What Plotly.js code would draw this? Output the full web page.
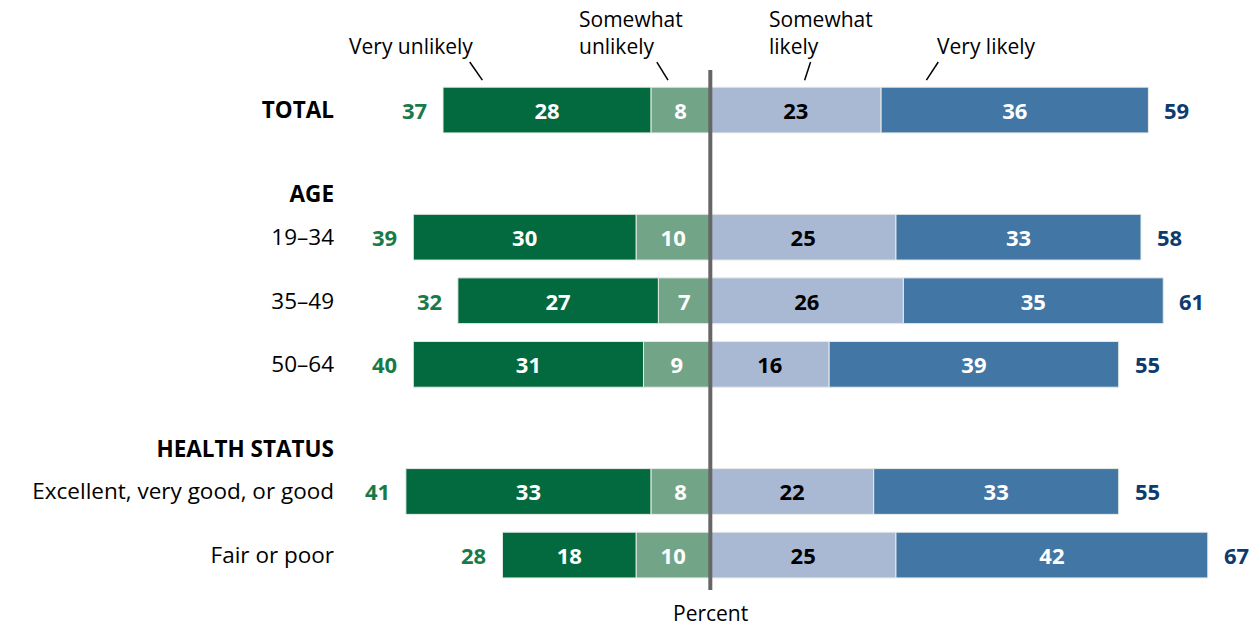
<!DOCTYPE html>
<html>
<head>
<meta charset="utf-8">
<script src="https://cdn.plot.ly/plotly-3.0.1.min.js"></script>
<style>html,body{margin:0;padding:0;background:#fff;}#chart{width:1259px;height:627px;}</style>
</head>
<body>
<div id="chart"></div>
<script>
// ---- data ----
const groups = ['TOTAL', '19–34', '35–49', '50–64', 'Excellent, very good, or good', 'Fair or poor'];
const groupPos = [0, 2, 3, 4, 6, 7];
const headerLabels = ['AGE', 'HEALTH STATUS'];
const headerPos = [1.33, 5.33];
const veryUnlikely = [28, 30, 27, 31, 33, 18];
const somewhatUnlikely = [8, 10, 7, 9, 8, 10];
const somewhatLikely = [23, 25, 26, 16, 22, 25];
const veryLikely = [36, 33, 35, 39, 33, 42];
const totalUnlikely = [37, 39, 32, 40, 41, 28];
const totalLikely = [59, 58, 61, 55, 55, 67];

const FONT = 'Open Sans, Liberation Sans, sans-serif';
const BW = 0.72;

function barTrace(name, vals, sign, color, txtColor) {
  return {
    type: 'bar', orientation: 'h', name: name,
    y: groupPos, x: vals.map(v => sign * v),
    text: vals.map(v => String(v)),
    textposition: 'inside', insidetextanchor: 'middle', textangle: 0,
    textfont: {family: FONT, size: 22, color: txtColor, weight: 700},
    constraintext: 'none',
    marker: {color: color, line: {color: '#e8ece8', width: 1}},
    width: BW, hoverinfo: 'skip', showlegend: false
  };
}

const traces = [
  barTrace('Somewhat unlikely', somewhatUnlikely, -1, '#72a488', '#ffffff'),
  barTrace('Very unlikely', veryUnlikely, -1, '#03693f', '#ffffff'),
  barTrace('Somewhat likely', somewhatLikely, 1, '#a9b9d4', '#000000'),
  barTrace('Very likely', veryLikely, 1, '#4276a5', '#ffffff')
];

const annotations = [];
groupPos.forEach((p, i) => {
  annotations.push({x: -(veryUnlikely[i] + somewhatUnlikely[i]), y: p, xref: 'x', yref: 'y',
    text: '<b>' + totalUnlikely[i] + '</b>', showarrow: false, xanchor: 'right', xshift: -14,
    font: {family: FONT, size: 22, color: '#1a7a47'}});
  annotations.push({x: somewhatLikely[i] + veryLikely[i], y: p, xref: 'x', yref: 'y',
    text: '<b>' + totalLikely[i] + '</b>', showarrow: false, xanchor: 'left', xshift: 14,
    font: {family: FONT, size: 22, color: '#0d3b6e'}});
});

const legendFont = {family: FONT, size: 21, color: '#000'};
const L1 = 1.0503, L2 = 1.026;
const leg = (x, y, t, xa) => ({x: x, y: y, xref: 'x', yref: 'paper', text: t, showarrow: false,
  xanchor: xa, yanchor: 'middle', align: 'left', font: legendFont, borderpad: 0});
annotations.push(
  leg(-40.3, L2, 'Very unlikely', 'center'),
  leg(-17.8, L1, 'Somewhat<br>unlikely', 'left'),
  leg(7.8, L1, 'Somewhat<br>likely', 'left'),
  leg(37.2, L2, 'Very likely', 'center'),
  {x: 0, y: -0.030, xref: 'x', yref: 'paper', text: 'Percent', showarrow: false, xanchor: 'center', yanchor: 'middle',
   borderpad: 0, font: {family: FONT, size: 21, color: '#000'}}
);

const tick = (x0, x1) => ({type: 'line', xref: 'x', yref: 'y', x0: x0, x1: x1, y0: -0.755, y1: -0.47, line: {color: '#000', width: 1.5}});
const shapes = [
  tick(-32.4, -30.7), tick(-7.2, -5.7), tick(13.5, 12.7), tick(30.7, 29.1),
  {type: 'line', xref: 'x', yref: 'y', x0: 0, x1: 0, y0: -0.63, y1: 7.55, line: {color: '#666666', width: 4}, layer: 'above'}
];

const tickvals = [0, headerPos[0], 2, 3, 4, headerPos[1], 6, 7];
const ticktext = ['<b>' + groups[0] + '</b>', '<b>' + headerLabels[0] + '</b>', groups[1], groups[2], groups[3],
  '<b>' + headerLabels[1] + '</b>', groups[4], groups[5]];

const layout = {
  width: 1259, height: 627,
  margin: {l: 345, r: 20, t: 60, b: 30},
  paper_bgcolor: '#fff', plot_bgcolor: '#fff',
  barmode: 'relative',
  font: {family: FONT, size: 22, color: '#000'},
  xaxis: {range: [-49.2, 71.2], showgrid: false, zeroline: false, showticklabels: false, showline: false, fixedrange: true},
  yaxis: {range: [7.66, -0.787], tickvals: tickvals, ticktext: ticktext, showgrid: false, zeroline: false,
    showline: false, ticks: '', ticklabelstandoff: 10, automargin: false,
    tickfont: {family: FONT, size: 22.5, color: '#000'}},
  annotations: annotations, shapes: shapes, showlegend: false
};

Plotly.newPlot('chart', traces, layout, {displayModeBar: false, staticPlot: true});
</script>
</body>
</html>
